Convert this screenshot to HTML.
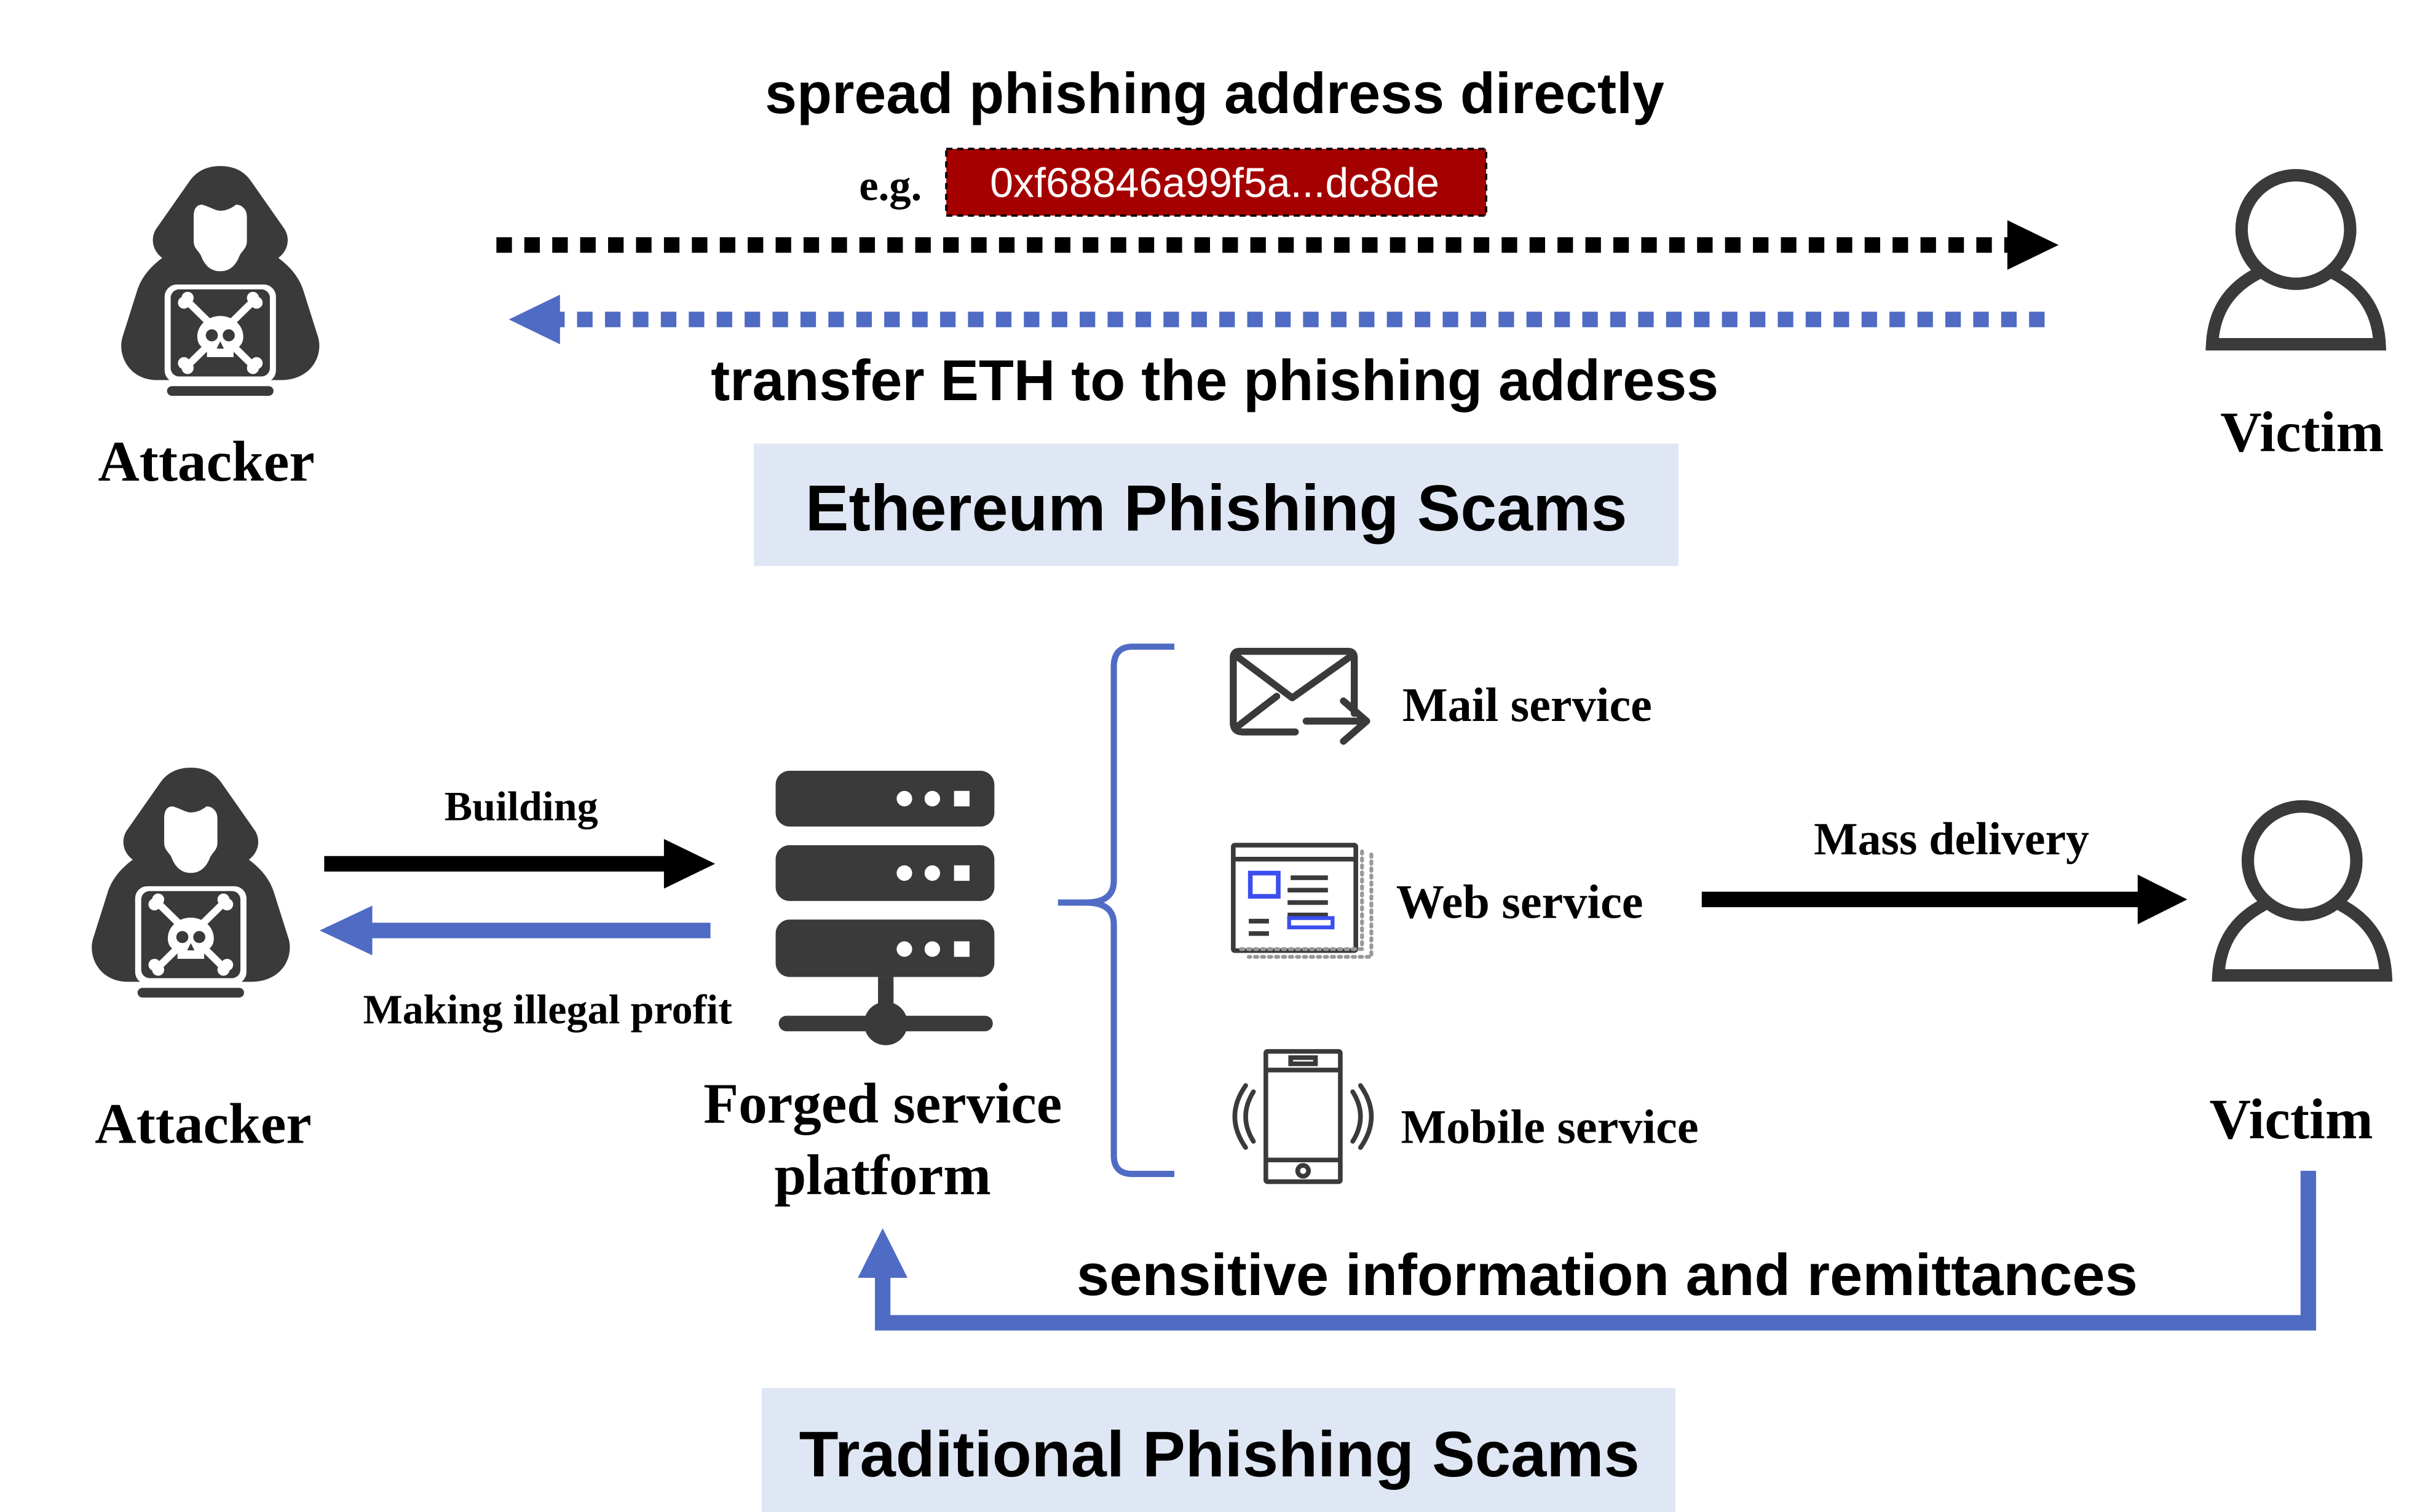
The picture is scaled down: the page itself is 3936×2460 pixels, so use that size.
<!DOCTYPE html>
<html><head><meta charset="utf-8"><style>html,body{margin:0;padding:0;background:#fff}svg{display:block}</style></head><body>
<svg width="3936" height="2460" viewBox="0 0 1560 975" xmlns="http://www.w3.org/2000/svg">
<defs>
<g id="att0">
 <path d="M0,-82 C-12,-82 -20,-77 -25,-70 L-53,-30 C-58,-22 -56,-12 -48,-6 C-60,3 -66,12 -69,22 L-81,60 C-85,75 -75,95 -52,95 L50,95 C75,95 85,75 81,60 L69,22 C66,12 60,3 48,-6 C56,-12 58,-22 53,-30 L25,-70 C20,-77 12,-82 0,-82 Z" fill="#3a3a3a"/>
 <path d="M-15,-50 C-8,-48 -4,-45 0,-45 C5,-45 9,-47 13,-50 C18,-50 22,-46 22,-40 L22,-20 C22,-14 18,-12 16,-8 C13,0 8,5 0,5 C-8,5 -13,0 -16,-8 C-18,-12 -22,-14 -22,-20 L-22,-40 C-22,-46 -20,-50 -15,-50 Z" fill="#fff"/>
 <rect x="-46" y="16" width="92" height="81" rx="10" fill="#fff"/>
 <rect x="-41" y="20" width="82" height="72" rx="7" fill="#3a3a3a"/>
 <rect x="-44" y="100" width="88" height="8" rx="4" fill="#3a3a3a"/>
 <g stroke="#fff" stroke-width="6" stroke-linecap="round"><line x1="-27" y1="30" x2="27" y2="83"/><line x1="27" y1="30" x2="-27" y2="83"/></g>
 <g fill="#fff"><circle cx="-30" cy="31" r="5"/><circle cx="-27" cy="27" r="5"/><circle cx="30" cy="31" r="5"/><circle cx="27" cy="27" r="5"/><circle cx="-30" cy="81" r="5"/><circle cx="-27" cy="85" r="5"/><circle cx="30" cy="81" r="5"/><circle cx="27" cy="85" r="5"/>
 <path d="M0,42 C-11,42 -19,50 -19,59 C-19,65 -16,68 -11,70 L-11,76 L11,76 L11,70 C16,68 19,65 19,59 C19,50 11,42 0,42 Z"/></g>
 <g fill="#3a3a3a"><circle cx="-7" cy="58" r="5"/><circle cx="7" cy="58" r="5"/><path d="M0,63 L-3,69 L3,69 Z"/></g>
</g>
<g id="att"><use href="#att0" transform="scale(0.78)"/></g>
<g id="vic" fill="none" stroke="#3a3a3a" stroke-width="8">
 <circle cx="0" cy="0" r="35"/>
 <path d="M-22,27 C-45,38 -53,55 -54,74 L54,74 C53,55 45,38 22,27"/>
</g>
</defs>
<g font-family="Liberation Sans, sans-serif" font-weight="bold" fill="#000" text-anchor="middle">
<text x="783" y="73" font-size="37">spread phishing address directly</text>
<text x="783" y="258" font-size="37">transfer ETH to the phishing address</text>
</g>
<text x="574" y="129" font-family="Liberation Serif, serif" font-weight="bold" font-size="28" text-anchor="middle">e.g.</text>
<rect x="610" y="96" width="348" height="43" fill="#a50000" stroke="#000" stroke-width="1.5" stroke-dasharray="4 3"/>
<text x="783" y="127" font-family="Liberation Sans, sans-serif" font-size="27" fill="#fff" text-anchor="middle">0xf68846a99f5a...dc8de</text>
<line x1="320" y1="158" x2="1296" y2="158" stroke="#000" stroke-width="10" stroke-dasharray="10 8"/>
<path d="M1294,142 L1327,158 L1294,174 Z" fill="#000"/>
<line x1="1318" y1="206" x2="360" y2="206" stroke="#4f6bc4" stroke-width="10" stroke-dasharray="10 8"/>
<path d="M361,190 L328,206 L361,222 Z" fill="#4f6bc4"/>
<use href="#att" x="142" y="171"/>
<text x="133" y="310" font-family="Liberation Serif, serif" font-weight="bold" font-size="37" text-anchor="middle">Attacker</text>
<use href="#vic" x="1480" y="148"/>
<text x="1484" y="291" font-family="Liberation Serif, serif" font-weight="bold" font-size="37" text-anchor="middle">Victim</text>
<rect x="486" y="286" width="596" height="79" fill="#dfe6f4"/>
<text x="784" y="342" font-family="Liberation Sans, sans-serif" font-weight="bold" font-size="42" text-anchor="middle">Ethereum Phishing Scams</text>

<use href="#att" x="123" y="559"/>
<text x="131" y="737" font-family="Liberation Serif, serif" font-weight="bold" font-size="37" text-anchor="middle">Attacker</text>
<g font-family="Liberation Serif, serif" font-weight="bold" text-anchor="middle">
<text x="336" y="529" font-size="27">Building</text>
<text x="353" y="660" font-size="27">Making illegal profit</text>
<text x="569" y="724" font-size="37">Forged service</text>
<text x="569" y="770" font-size="37">platform</text>
<text x="1258" y="551" font-size="30">Mass delivery</text>
</g>
<line x1="209" y1="557" x2="430" y2="557" stroke="#000" stroke-width="10"/>
<path d="M428,541 L461,557 L428,573 Z" fill="#000"/>
<line x1="458" y1="600" x2="238" y2="600" stroke="#4f6bc4" stroke-width="10"/>
<path d="M240,584 L206,600 L240,616 Z" fill="#4f6bc4"/>
<g fill="#3a3a3a">
<rect x="500" y="497" width="141" height="36" rx="9"/>
<rect x="500" y="545" width="141" height="36" rx="9"/>
<rect x="500" y="593" width="141" height="37" rx="9"/>
<rect x="566" y="630" width="10" height="25"/>
<rect x="502" y="655" width="138" height="10" rx="5"/>
<circle cx="571" cy="660" r="14"/>
</g>
<g fill="#fff">
<circle cx="583" cy="515" r="5"/><circle cx="601" cy="515" r="5"/><rect x="615" y="510" width="10" height="10"/>
<circle cx="583" cy="563" r="5"/><circle cx="601" cy="563" r="5"/><rect x="615" y="558" width="10" height="10"/>
<circle cx="583" cy="612" r="5"/><circle cx="601" cy="612" r="5"/><rect x="615" y="607" width="10" height="10"/>
</g>
<path d="M757,417 L730,417 Q718,417 718,430 L718,568 Q718,582 700,582 L682,582 M700,582 Q718,582 718,596 L718,745 Q718,757 730,757 L757,757" fill="none" stroke="#4f6bc4" stroke-width="4"/>
<g fill="none" stroke="#3a3a3a" stroke-width="4.5" stroke-linecap="round" stroke-linejoin="round">
<path d="M873,460 L873,424 Q873,420 869,420 L799,420 Q795,420 795,424 L795,466 Q795,472 801,472 L835,472"/>
<path d="M797,423 L833,450 L871,423"/>
<path d="M797,469 L823,449"/>
<path d="M842,465 L881,465 M866,452 L881,465 L866,478"/>
</g>
<g fill="none" stroke="#3a3a3a" stroke-width="3">
<rect x="795" y="545" width="79" height="68" rx="1"/>
<line x1="795" y1="554" x2="874" y2="554"/>
<path d="M832,566 L856,566 M830,574 L856,574 M830,582 L856,582 M830,590 L856,590 M805,594 L818,594 M805,602 L818,602"/>
</g>
<rect x="806" y="563" width="18" height="15" fill="none" stroke="#3b4ef0" stroke-width="3"/>
<rect x="831" y="592" width="28" height="6" fill="none" stroke="#3b4ef0" stroke-width="2.5"/>
<g stroke="#999" stroke-width="2.5" stroke-dasharray="1.5 3" stroke-linecap="round" fill="none">
<path d="M878,549 L878,612 L800,612"/><path d="M884,551 L884,617 L805,617"/>
</g>
<g fill="none" stroke="#3a3a3a" stroke-width="3">
<rect x="816" y="678" width="48" height="84" rx="1"/>
<line x1="816" y1="690" x2="864" y2="690"/><line x1="816" y1="748" x2="864" y2="748"/>
<rect x="832" y="682" width="16" height="4"/>
<circle cx="840" cy="755" r="3.5"/>
<path d="M808,704 Q798,720 808,736 M803,700 Q789,720 803,740 M872,704 Q882,720 872,736 M877,700 Q891,720 877,740" stroke-linecap="round"/>
</g>
<g font-family="Liberation Serif, serif" font-weight="bold" font-size="31">
<text x="904" y="465">Mail service</text>
<text x="900" y="592">Web service</text>
<text x="903" y="737">Mobile service</text>
</g>
<line x1="1097" y1="580" x2="1380" y2="580" stroke="#000" stroke-width="10"/>
<path d="M1378,564 L1410,580 L1378,596 Z" fill="#000"/>
<use href="#vic" x="1484" y="555"/>
<text x="1477" y="734" font-family="Liberation Serif, serif" font-weight="bold" font-size="37" text-anchor="middle">Victim</text>
<path d="M1488,755 L1488,853 L569,853 L569,822" fill="none" stroke="#4f6bc4" stroke-width="10"/>
<path d="M553,824 L569,792 L585,824 Z" fill="#4f6bc4"/>
<text x="1036" y="835" font-family="Liberation Sans, sans-serif" font-weight="bold" font-size="38" text-anchor="middle">sensitive information and remittances</text>
<rect x="491" y="895" width="589" height="80" fill="#dfe6f4"/>
<text x="786" y="952" font-family="Liberation Sans, sans-serif" font-weight="bold" font-size="41.5" text-anchor="middle">Traditional Phishing Scams</text>
</svg>
</body></html>
